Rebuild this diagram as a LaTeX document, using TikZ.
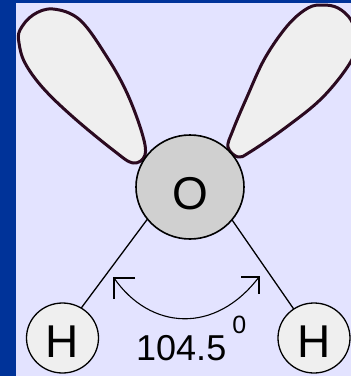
\documentclass[tikz,border=0pt]{standalone}
\usepackage{fontspec}
\setmainfont{Liberation Sans}
\usetikzlibrary{shapes.geometric}
\definecolor{slide}{HTML}{003399}
\definecolor{panel}{HTML}{E3E3FF}
\definecolor{lobeline}{HTML}{2B0A20}
\definecolor{lobefill}{HTML}{EFEFEF}
\definecolor{oxygen}{HTML}{D0D0D0}
\tikzset{
  atom/.style={ellipse, draw=black, inner sep=0pt, outer sep=0pt, font=\fontsize{46}{50}\selectfont},
  oatom/.style={atom, fill=oxygen, line width=1.6pt, minimum width=108pt, minimum height=104pt, text height=45pt, text depth=0pt},
  hatom/.style={atom, fill=lobefill, line width=1.3pt, minimum width=72pt, minimum height=70pt, text height=38pt, text depth=0pt},
  lobe/.style={draw=lobeline, fill=lobefill, line width=3pt, line join=round},
  bond/.style={black, line width=1.3pt},
  angle/.style={black, line width=1.1pt},
}
\begin{document}
\begin{tikzpicture}[x=1pt, y=-1pt]
    \useasboundingbox (0,0) rectangle (351,376);
    \fill[slide] (0,0) rectangle (351,376);
    \fill[panel] (16,3) rectangle (351,376);

    \draw[lobe] plot[smooth cycle, tension=0.6] coordinates {(133,163) (145,155) (142,133) (127,93) (107,57) (80,20) (53,9) (33,15) (20,30) (19,43) (25,63) (43,88) (73,117) (113,150)};
    \draw[lobe] plot[smooth cycle, tension=0.6] coordinates {(228,147) (238,157) (250,152) (285,128) (322,98) (350,63) (357,40) (351,20) (338,8) (323,5) (308,8) (288,25) (265,58) (247,97) (233,130)};

    \node[oatom] (o) at (190,187) {O};
    \node[hatom] (hleft) at (62.5,338) {H};
    \node[hatom] (hright) at (314,338) {H};
    \node[anchor=base west, inner sep=0pt, font=\fontsize{36}{40}\selectfont] (deg) at (136,360) {104.5\hspace{6pt}\raisebox{27pt}{\fontsize{25}{28}\selectfont 0}};

    \coordinate (tipleft) at (114,278);
    \coordinate (barbla) at (135,278);
    \coordinate (barblb) at (114,299);
    \coordinate (tipright) at (259,277);
    \coordinate (barbra) at (241,277);
    \coordinate (barbrb) at (259,294);

    \draw[bond] (o.217) -- (hleft.58);
    \draw[bond] (o.322) -- (hright.125);
    \draw[angle] (tipleft) .. controls (150,330) and (215,335) .. (tipright);
    \draw[angle] (barbla) -- (tipleft) -- (barblb);
    \draw[angle] (barbra) -- (tipright) -- (barbrb);
  \end{tikzpicture}
\end{document}
